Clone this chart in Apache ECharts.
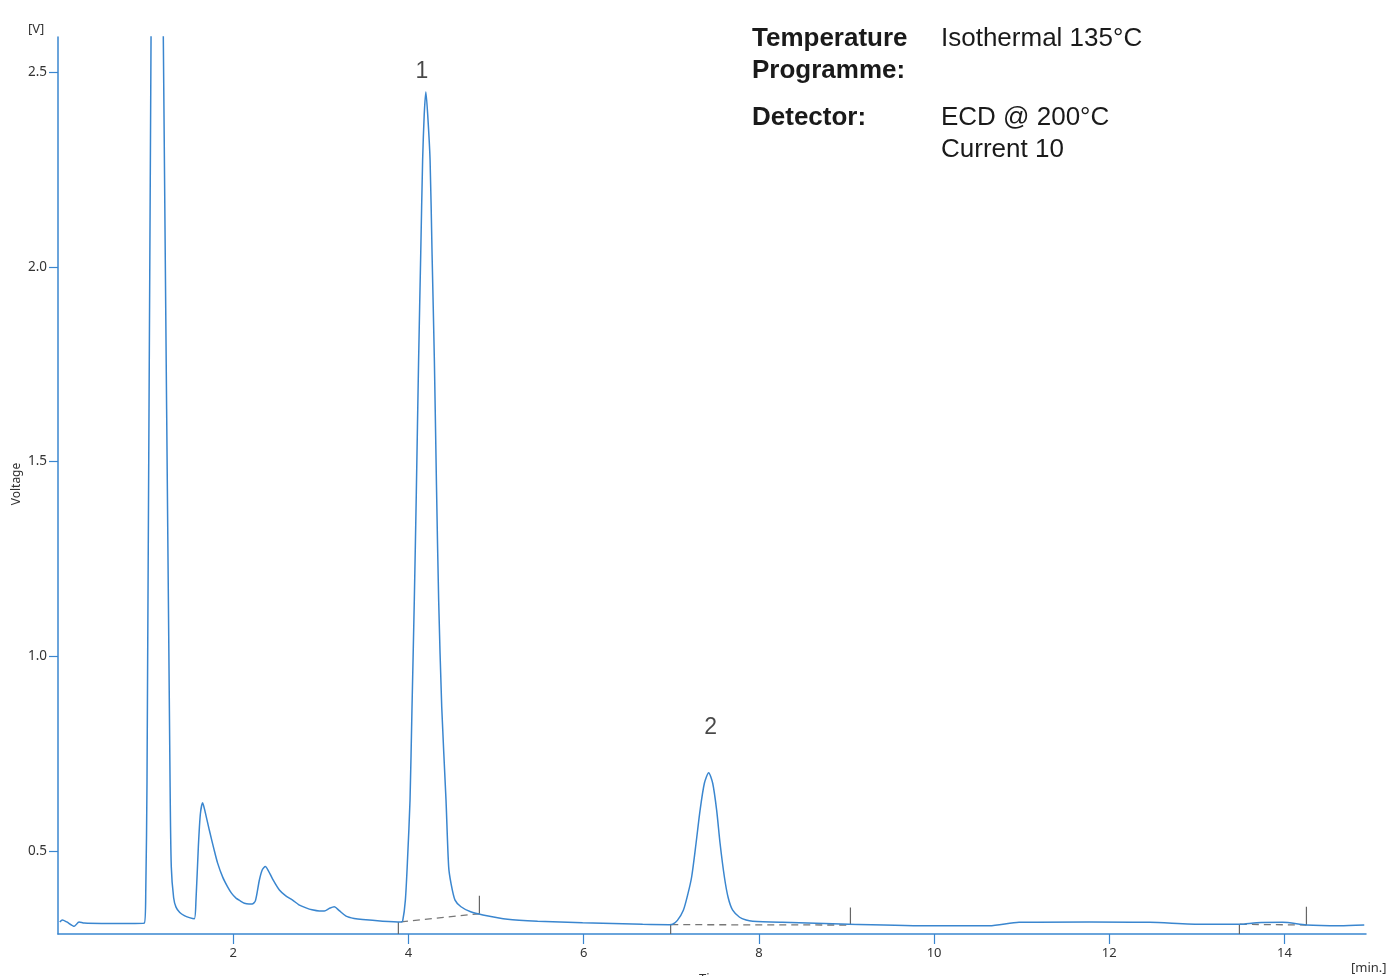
<!DOCTYPE html>
<html>
<head>
<meta charset="utf-8">
<script src="https://cdn.jsdelivr.net/npm/echarts@6/dist/echarts.min.js"></script>
<style>
html,body{margin:0;padding:0;background:#ffffff;}
#chart{width:1388px;height:976px;}
</style>
</head>
<body>
<div id="chart"></div>
<script>
// ---- data (time in min, signal in V) ----
const time = [0.02,0.05,0.10,0.186,0.24,0.30,0.5,0.8,0.985,1.002,1.016,1.062,1.09,1.134,1.175,1.202,1.279,1.293,1.32,1.347,1.39,1.442,1.50,1.556,1.575,1.602,1.625,1.651,1.68,1.727,1.78,1.822,1.88,1.936,1.98,2.032,2.08,2.127,2.18,2.215,2.253,2.298,2.332,2.367,2.40,2.45,2.527,2.60,2.678,2.75,2.831,2.90,2.983,3.04,3.10,3.154,3.21,3.288,3.38,3.477,3.705,3.916,3.934,3.965,3.99,4.018,4.04,4.067,4.09,4.116,4.14,4.162,4.18,4.199,4.22,4.247,4.27,4.296,4.32,4.345,4.38,4.429,4.459,4.486,4.532,4.60,4.71,4.85,5.132,5.475,5.988,6.674,6.978,7.016,7.07,7.138,7.19,7.233,7.283,7.329,7.378,7.427,7.473,7.518,7.557,7.606,7.65,7.701,7.78,7.854,7.93,8.27,9.03,9.98,10.63,10.97,11.77,12.46,13.07,13.49,13.68,13.98,14.25,14.63,14.91];
const voltage = [0.318,0.323,0.318,0.307,0.318,0.315,0.314,0.314,0.315,0.40,0.68,2.59,3.3,3.5,3.3,2.59,0.68,0.46,0.38,0.356,0.342,0.334,0.329,0.326,0.374,0.511,0.595,0.624,0.60,0.554,0.505,0.469,0.433,0.408,0.392,0.379,0.372,0.366,0.364,0.364,0.372,0.425,0.452,0.460,0.450,0.428,0.400,0.385,0.374,0.362,0.354,0.349,0.346,0.346,0.353,0.357,0.347,0.333,0.327,0.324,0.320,0.318,0.320,0.374,0.48,0.630,0.86,1.144,1.42,1.76,2.03,2.274,2.39,2.449,2.39,2.274,2.03,1.76,1.44,1.144,0.87,0.630,0.460,0.417,0.374,0.357,0.344,0.336,0.325,0.320,0.316,0.312,0.311,0.312,0.322,0.348,0.39,0.434,0.520,0.605,0.674,0.701,0.674,0.605,0.520,0.434,0.38,0.348,0.330,0.323,0.320,0.317,0.312,0.308,0.308,0.317,0.318,0.317,0.312,0.312,0.316,0.317,0.310,0.308,0.310];

// integration baselines: [startTime, startV, endTime, endV]
const baselines = [[3.915,0.318,4.81,0.339],[7.0,0.311,9.045,0.310],[13.49,0.312,14.25,0.310]];
// peak start markers (drop to axis) and end markers (rise up): [time, fromV, toV]
const startMarks = [[3.885,0.318,0.287],[6.993,0.310,0.287],[13.485,0.312,0.287]];
const endMarks = [[4.81,0.339,0.385],[9.045,0.310,0.355],[14.25,0.310,0.357]];

const xTicks = [2,4,6,8,10,12,14];
const yTicks = [0.5,1.0,1.5,2.0,2.5];
// peak number, apex time, apex voltage
const peakLabels = [['1',4.199,2.449],['2',7.427,0.701]];

const xMin = 0, xMax = 14.93, yMin = 0.287, yMax = 2.59;

const trace = time.map((t,i)=>[t,voltage[i]]);
const basePts = [];
baselines.forEach(b=>{basePts.push([b[0],b[1]],[b[2],b[3]],null);});
const markPts = [];
startMarks.concat(endMarks).forEach(m=>{markPts.push([m[0],m[1]],[m[0],m[2]],null);});

const labelStyle = {'1':{distance:9,offset:[-4,0]},'2':{distance:34,offset:[2,0]}};

const blue = '#3a86cf';
const chart = echarts.init(document.getElementById('chart'));
chart.setOption({
  backgroundColor:'#ffffff',
  animation:false,
  grid:{left:58,right:22,top:37,bottom:42,outerBoundsMode:'none',containLabel:false},
  xAxis:{
    type:'value',min:xMin,max:xMax,
    axisLine:{show:true,lineStyle:{color:blue,width:1.5}},
    axisTick:{show:true,length:10,customValues:xTicks,lineStyle:{color:blue,width:1.2}},
    axisLabel:{customValues:xTicks,margin:13,fontFamily:'Noto Sans',fontSize:13,color:'#333'},
    splitLine:{show:false}
  },
  yAxis:{
    type:'value',min:yMin,max:yMax,
    axisLine:{show:true,lineStyle:{color:blue,width:1.5}},
    axisTick:{show:true,length:9,customValues:yTicks,lineStyle:{color:blue,width:1.2}},
    axisLabel:{customValues:yTicks,margin:11,fontFamily:'Noto Sans',fontSize:13.5,color:'#333',
      formatter:v=>v.toFixed(1)},
    splitLine:{show:false}
  },
  series:[
    {type:'line',data:basePts,showSymbol:false,connectNulls:false,silent:true,
      lineStyle:{color:'#777',width:1.3,type:[7,5]},z:1},
    {type:'line',data:markPts,showSymbol:false,connectNulls:false,silent:true,clip:false,
      lineStyle:{color:'#666',width:1.2},z:1},
    {type:'line',data:trace,showSymbol:false,smooth:0.25,
      lineStyle:{color:blue,width:1.5},z:3},
    {type:'scatter',data:peakLabels.map(p=>({value:[p[1],p[2]],name:p[0],
        label:labelStyle[p[0]]})),
      symbolSize:0,silent:true,
      label:{show:true,position:'top',formatter:p=>p.name,
        fontFamily:'Liberation Sans',fontSize:23,color:'#1a1a1a'}}
  ],
  graphic:[
    {type:'text',x:17,y:484,rotation:Math.PI/2,
      style:{text:'Voltage',font:'12px "Noto Sans"',fill:'#333',align:'center',verticalAlign:'middle'}},
    {type:'text',x:714,y:979,
      style:{text:'Time',font:'13px "Noto Sans"',fill:'#333',align:'center',verticalAlign:'middle'}},
    {type:'text',left:28,top:23,style:{text:'[V]',font:'13px "Noto Sans"',fill:'#333'}},
    {type:'text',left:1351,top:962,style:{text:'[min.]',font:'13px "Noto Sans"',fill:'#333'}},
    {type:'text',left:752,top:23,style:{text:'Temperature\nProgramme:',font:'bold 26px "Liberation Sans"',fill:'#1a1a1a',lineHeight:32}},
    {type:'text',left:752,top:102,style:{text:'Detector:',font:'bold 26px "Liberation Sans"',fill:'#1a1a1a',lineHeight:32}},
    {type:'text',left:941,top:23,style:{text:'Isothermal 135°C',font:'26px "Liberation Sans"',fill:'#1a1a1a',lineHeight:32}},
    {type:'text',left:941,top:102,style:{text:'ECD @ 200°C\nCurrent 10',font:'26px "Liberation Sans"',fill:'#1a1a1a',lineHeight:32}}
  ]
});
</script>
</body>
</html>
